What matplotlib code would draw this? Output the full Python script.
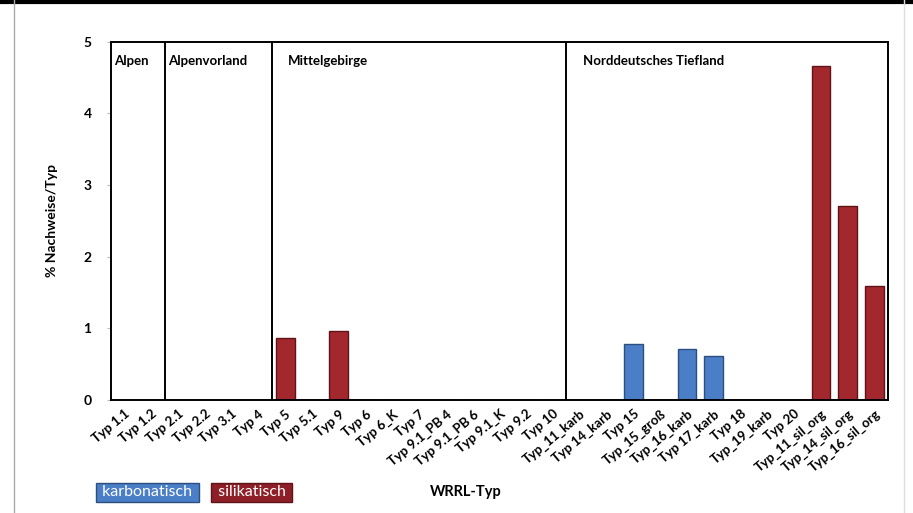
import matplotlib.pyplot as plt
from matplotlib.lines import Line2D

plt.rcParams['font.family'] = ['Lato', 'DejaVu Sans']

# WRRL-Typen und Anteil Nachweise (%)
typen = ['Typ 1.1', 'Typ 1.2', 'Typ 2.1', 'Typ 2.2', 'Typ 3.1', 'Typ 4',
         'Typ 5', 'Typ 5.1', 'Typ 9', 'Typ 6', 'Typ 6_K', 'Typ 7',
         'Typ 9.1_PB 4', 'Typ 9.1_PB 6', 'Typ 9.1_K', 'Typ 9.2', 'Typ 10',
         'Typ_11_karb', 'Typ 14_karb', 'Typ 15', 'Typ_15_groß', 'Typ_16_karb',
         'Typ 17_karb', 'Typ 18', 'Typ_19_karb', 'Typ 20',
         'Typ_11_sil_org', 'Typ_14_sil_org', 'Typ_16_sil_org']
werte = [0, 0, 0, 0, 0, 0,
         0.86, 0, 0.96, 0, 0, 0,
         0, 0, 0, 0, 0,
         0, 0, 0.78, 0, 0.71,
         0.61, 0, 0, 0,
         4.67, 2.71, 1.59]
# k = karbonatisch, s = silikatisch
geologie = ['s', 's', 's', 's', 's', 's',
            's', 's', 's', 's', 's', 's',
            's', 's', 's', 's', 's',
            'k', 'k', 'k', 'k', 'k',
            'k', 'k', 'k', 'k',
            's', 's', 's']

regionen = ['Alpen', 'Alpenvorland', 'Mittelgebirge', 'Norddeutsches Tiefland']
region_start = [0, 2, 6, 17]

blau = '#4a7ec6'
rot = '#a3282e'
farben = {'k': blau, 's': rot}
rand = {'k': '#2c4f80', 's': '#5e1418'}

fig = plt.figure(figsize=(9.13, 5.13), dpi=100)
ax = fig.add_axes([0.1216, 0.2212, 0.851, 0.697])

x = list(range(len(typen)))
ax.bar(x, werte, width=0.7,
       color=[farben[g] for g in geologie],
       edgecolor=[rand[g] for g in geologie], linewidth=1.0)

ax.set_xlim(-0.5, len(typen) - 0.5)
ax.set_ylim(0, 5)
ax.set_yticks(range(6))
ax.tick_params(axis='y', length=3, color='#bbbbbb', labelsize=10, pad=11)
for t in ax.get_yticklabels():
    t.set_fontweight('bold')
ax.set_xticks(x)
ax.set_xticklabels(typen, rotation=40, ha='right', rotation_mode='anchor',
                   fontsize=9.5, fontweight='bold')
ax.tick_params(axis='x', length=0, pad=6)

for s in ax.spines.values():
    s.set_color('black')
    s.set_linewidth(1.4)

for i, (name, start) in enumerate(zip(regionen, region_start)):
    if start > 0:
        ax.axvline(start - 0.5, color='black', linewidth=1.4)
    off = 0.12 if i < 2 else 0.6
    ax.text(start - 0.5 + off, 4.73, name, fontsize=9.5, fontweight='bold',
            ha='left', va='center')

ax.set_ylabel('% Nachweise/Typ', fontsize=10, fontweight='bold', labelpad=18)
fig.text(0.51, 0.04, 'WRRL-Typ', fontsize=10.5, fontweight='bold',
         ha='center', va='center')

# Legende als farbige Kästchen
fig.text(0.1075, 0.04, ' karbonatisch ', fontsize=11.5, color='white',
         ha='left', va='center',
         bbox=dict(boxstyle='square,pad=0.15', facecolor=blau, edgecolor='#2c4f80'))
fig.text(0.234, 0.04, ' silikatisch ', fontsize=11.5, color='white',
         ha='left', va='center',
         bbox=dict(boxstyle='square,pad=0.15', facecolor='#8e1f28', edgecolor='#5e1418'))

# Bildrahmen
fig.add_artist(Line2D([0, 1], [0.997, 0.997], color='black', linewidth=3,
                      transform=fig.transFigure))
fig.add_artist(Line2D([0.015, 0.015], [0, 1], color='#aaaaaa', linewidth=1,
                      transform=fig.transFigure))
fig.add_artist(Line2D([0.99, 0.99], [0, 1], color='#dddddd', linewidth=1,
                      transform=fig.transFigure))

fig.savefig('out.png', dpi=100)
